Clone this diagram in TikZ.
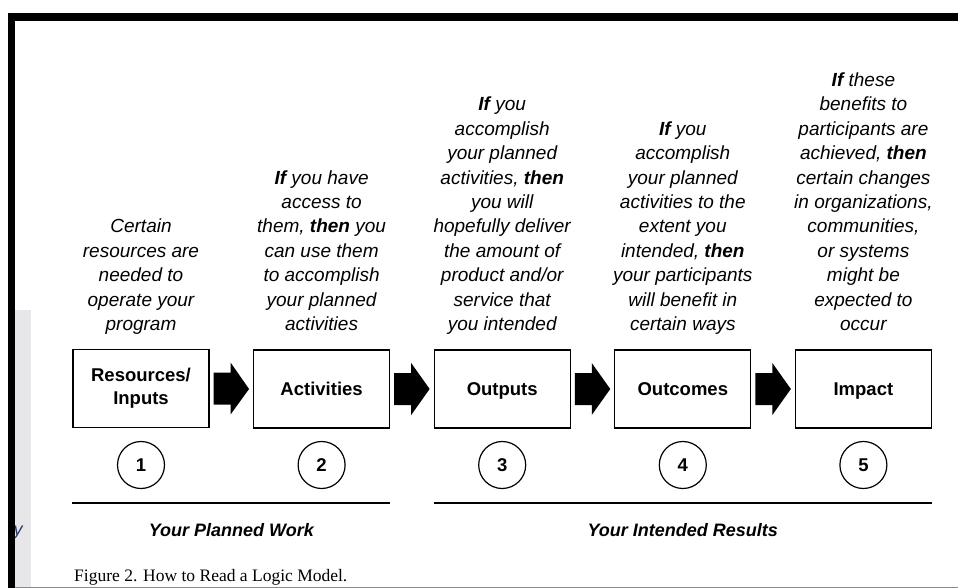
\documentclass[tikz,border=0pt]{standalone}
\usepackage{fontspec}
\setmainfont{Liberation Sans}
\newfontfamily\capfont{Liberation Serif}
\usetikzlibrary{calc}
\definecolor{stripgray}{HTML}{E7E7E9}
\definecolor{edgegray}{HTML}{8A8A8A}
\definecolor{navyink}{HTML}{2B3A66}
\tikzset{
  desc/.style={anchor=south, inner sep=0pt, align=center, font=\fontsize{19}{24.4}\selectfont\itshape},
  stage/.style={draw, line width=1.1pt, minimum width=136pt, minimum height=78pt, inner sep=0pt, align=center, font=\fontsize{18.5}{23}\selectfont\bfseries},
  oneline/.style={text height=13.5pt, text depth=0pt},
  num/.style={draw, circle, line width=1.2pt, minimum size=47pt, inner sep=0pt, text height=13.5pt, text depth=0pt, font=\fontsize{18.5}{22}\selectfont\bfseries},
  grp/.style={inner sep=0pt, font=\fontsize{18}{22}\selectfont\bfseries\itshape},
  rule/.style={line width=2pt},
  blockarrow/.style={fill=black}
}
\begin{document}
\begin{tikzpicture}[x=1pt,y=-1pt]
\useasboundingbox (0,0) rectangle (958,588);
% page background pieces
\fill[stripgray] (15,310) rectangle (31,588);
\node[inner sep=0pt, text=navyink, font=\fontsize{18}{22}\selectfont\itshape] (ychar) at (18,533) {y};
\fill[black] (7.5,13.5) rectangle (958,21.5);
\fill[black] (7.5,13.5) rectangle (15,588);
\fill[edgegray] (15,586.5) rectangle (958,588);

% descriptions
\node[desc] (d1) at (141,338) {Certain\\resources are\\needed to\\operate your\\program\strut};
\node[desc] (d2) at (321.6,338) {\textbf{If} you have\\access to\\them, \textbf{then} you\\can use them\\to accomplish\\your planned\\activities\strut};
\node[desc] (d3) at (502.2,338) {\textbf{If} you\\accomplish\\your planned\\activities, \textbf{then}\\you will\\hopefully deliver\\the amount of\\product and/or\\service that\\you intended\strut};
\node[desc] (d4) at (682.8,338) {\textbf{If} you\\accomplish\\your planned\\activities to the\\extent you\\intended, \textbf{then}\\your participants\\will benefit in\\certain ways\strut};
\node[desc] (d5) at (863.4,338) {\textbf{If} these\\benefits to\\participants are\\achieved, \textbf{then}\\certain changes\\in organizations,\\communities,\\or systems\\might be\\expected to\\occur\strut};

% stage boxes
\node[stage] (b1) at (141,388.5) {Resources/\\Inputs};
\node[stage, oneline] (b2) at (321.6,389) {Activities};
\node[stage, oneline] (b3) at (502.2,389) {Outputs};
\node[stage, oneline] (b4) at (682.8,389) {Outcomes};
\node[stage, oneline] (b5) at (863.4,389) {Impact};

% block arrows
\foreach \a/\b in {b1/b2,b2/b3,b3/b4,b4/b5}{
  \fill[blockarrow] ($(\a.east)+(4,-16)$) -- ($(\a.east)+(21,-16)$) -- ($(\a.east)+(21,-26)$)
    -- ($(\b.west)+(-4,0)$) -- ($(\a.east)+(21,26)$) -- ($(\a.east)+(21,16)$)
    -- ($(\a.east)+(4,16)$) -- cycle;
}

% numbered circles
\node[num] (c1) at (141,465) {1};
\node[num] (c2) at (321.6,465) {2};
\node[num] (c3) at (502.2,465) {3};
\node[num] (c4) at (682.8,465) {4};
\node[num] (c5) at (863.4,465) {5};

% group rules
\coordinate (r1s) at (b1.west |- 0,503);
\coordinate (r1e) at (b2.east |- 0,503);
\coordinate (r2s) at (b3.west |- 0,503);
\coordinate (r2e) at (b5.east |- 0,503);
\draw[rule] (r1s) -- (r1e);
\draw[rule] (r2s) -- (r2e);
\node[grp] (g1) at ($(r1s)!0.5!(r1e)+(0,27)$) {Your Planned Work};
\node[grp] (g2) at ($(r2s)!0.5!(r2e)+(0,27)$) {Your Intended Results};

% caption
\node[anchor=base west, inner sep=0pt, font=\capfont\fontsize{17.5}{21}\selectfont] (cap) at (74,581) {Figure 2. How to Read a Logic Model.};
\end{tikzpicture}
\end{document}
